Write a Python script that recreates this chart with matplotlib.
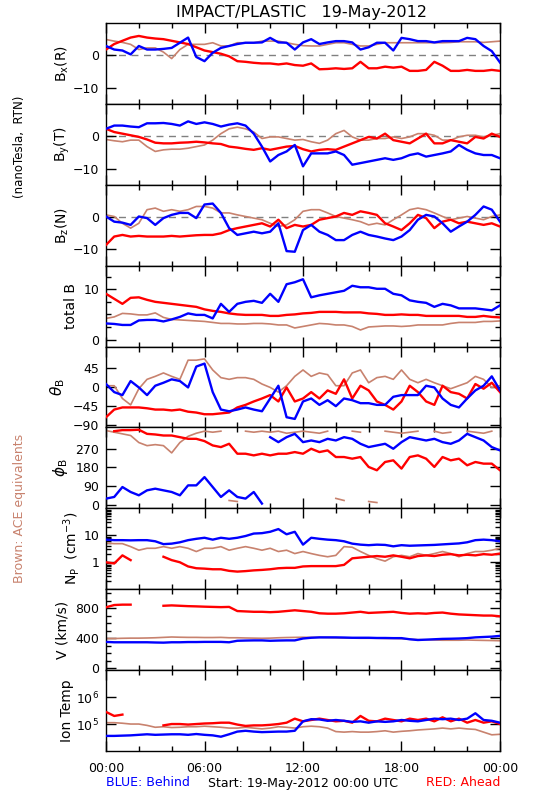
import numpy as np
import matplotlib
matplotlib.use("Agg")
import matplotlib.pyplot as plt
from matplotlib.ticker import MultipleLocator, FixedLocator, NullLocator, LogLocator, NullFormatter, FixedFormatter

# ---------------- data (30-min samples, hours 0..24) ----------------
hours = np.arange(0, 24.01, 0.5)
nan = np.nan

bx_red = [1.8, 3.5, 4.5, 5.5, 6, 5.5, 5.2, 5, 4.5, 4, 3.5, 2.5, 1.5, 1, 0.5, -0.3, -1.8, -2, -2.3, -2.5,
          -2.5, -2.8, -2.5, -3, -3.2, -2.5, -4.3, -4.2, -4, -4.2, -4, -2, -4, -4, -3.5, -3.8, -3.5, -4.8,
          -4.8, -4.5, -2, -3.2, -4.8, -4.8, -4.5, -4.8, -4.8, -4.5, -4.8]
bx_blue = [2.9, 1.8, 1.5, 0.3, 2.9, 1.8, 1.8, 2, 2.3, 3.9, 5.5, -0.5, -1.8, 0.8, 2.3, 2.9, 3.5, 3.9, 3.9, 4,
           5.4, 4, 3.9, 1.8, 4, 5, 3.5, 4, 4.4, 4.4, 4, 1.8, 2.5, 3.9, 3.9, 1.5, 5.4, 5, 4.4, 4.4, 4, 4.4,
           4.4, 4.4, 5.4, 5, 2.9, 1.3, -2.2]
bx_ace = [4.9, 4.4, 4, 3.4, 1.8, 2.3, 2.3, 1, -1, 1.8, 3.4, 3.4, 3.4, 3.9, 2.9, 2.9, 3.9, 3.9, 3.9, 4.4,
          4.4, 4.4, 3.9, 3.4, 3, 2.9, 2.9, 3.4, 3.9, 3.9, 3.4, 2.9, 2.9, 3.4, 3.9, 3.9, 3.9, 3.9, 3.9, 3.9,
          3.9, 3.9, 4, 4.2, 4.2, 4.2, 4, 4.2, 4.4]

by_red = [2.3, 1.3, 0.8, 0.3, -0.2, -1, -2, -2.2, -2.2, -2, -1.9, -1.7, -1.9, -2.2, -2.4, -3.2, -3.5, -3.9,
          -4.2, -3.7, -4.2, -3.7, -3.2, -3, -4, -4.7, -4.2, -4, -4.2, -3.2, -2.2, -1.2, -0.2, -0.7, 0.8,
          -1.2, -1.7, -2.2, -0.7, 0.8, -2.2, -2.2, -1.2, -1.7, -2.2, -0.2, -0.7, 0.8, -0.2]
by_blue = [2.3, 3.3, 3.3, 3, 2.8, 4, 4, 4.1, 3.8, 3.3, 4.6, 3.8, 4.3, 3.8, 3, 3.6, 4, 3.3, 0.8, -3.2, -7.8,
           -5.8, -4.7, -2.7, -9.3, -5.3, -5.3, -5.3, -4.7, -5.8, -8.8, -8.3, -7.8, -7.3, -6.8, -7.3, -6.8,
           -5.8, -5.3, -6.3, -5.8, -5.3, -4.7, -2.7, -4.2, -5.3, -5.8, -5.8, -6.8]
by_ace = [-1, -1.4, -1.7, -1.2, -1.2, -3.2, -4.7, -4.2, -4, -4, -3.7, -3.2, -2.7, -1.2, 0.8, 2.3, 2.8, 2.3,
          1.3, -0.7, -0.2, -0.2, -0.7, -1.2, -1, -1.7, -2.2, -1.2, 0.8, 1.8, -0.2, -1.2, -1.2, -0.7, -0.7,
          -0.2, -0.7, -0.2, 0.8, 0.8, 0.3, -1.2, -1.2, -0.2, 0.3, 0.3, -0.2, 0.3, 0.8]

bz_red = [-8.6, -6, -5.5, -6, -5.8, -6, -6, -6, -5.8, -6, -5.8, -5.6, -5.5, -5.5, -5, -4, -3.4, -2.9, -2.4,
          -1.9, -2.9, -0.8, -3.4, -2.4, -2.9, -2.4, -0.8, -0.3, 0.2, 1.3, 0.7, 1.8, 1.3, 0.7, -1.9, -2.9,
          -4, -1.9, 0.7, -0.3, -3.4, -1.4, -0.8, -1.9, -1.4, -1.9, -2.4, -1.9, -2.9]
bz_blue = [0.2, -1.4, -1.7, -2.4, 0.2, -0.3, -2.4, -0.3, 0.7, 1.3, 1.3, -0.3, 3.9, 4.2, 1.3, -3.4, -5.5, -5,
           -4.5, -5, -4.5, -1.9, -10.5, -10.7, -4, -2.4, -4.5, -5.5, -7.1, -7.1, -5.5, -4.5, -5.5, -6, -6.6,
           -7.1, -6, -4, -0.8, 0.7, 0.2, -1.9, -4.5, -2.9, -1.4, 0.7, 3.3, 2.3, -1.4]
bz_ace = [0.7, 0.2, -1.9, -3.4, -1.9, 2.3, 2.8, 1.8, 2.3, 1.8, 2.3, 3.3, 3.3, 2.8, 1.3, 1.3, 0.7, 0.2, -0.3,
          -0.8, -1.9, -2.9, -2.4, -0.8, 1.8, 2.3, 2.3, 1.3, 0.2, -0.3, -0.8, -1.4, -2.4, -1.9, -2.4, -0.8,
          0.7, 2.3, 2.8, 2.3, 1.3, 0.2, -0.8, -0.3, 0.2, -0.3, -0.8, 0.2, 0.7]

bt_red = [9.1, 8.1, 7.1, 8.3, 8.4, 7.9, 7.5, 7.3, 7.1, 6.9, 6.7, 6.5, 6, 5.7, 5.5, 5.2, 5, 4.9, 4.9, 4.9,
          4.7, 4.7, 4.9, 5, 5.2, 5.3, 5.5, 5.5, 5.5, 5.4, 5.4, 5.4, 5.2, 5.1, 4.9, 4.9, 5, 4.9, 4.9, 4.7,
          4.7, 4.7, 4.7, 4.7, 4.5, 4.5, 4.7, 4.5, 4.4]
bt_blue = [3.2, 3.1, 2.9, 2.9, 3.8, 3.9, 3.9, 3.6, 4, 4.5, 5.2, 4.9, 4.9, 4.2, 7.1, 5.5, 7.1, 7.5, 7.7, 7.3,
           9.1, 7.5, 11, 11.4, 12, 8.4, 8.8, 9.1, 9.4, 9.7, 10.7, 10.4, 10.4, 10.1, 10.1, 9.1, 8.8, 7.8,
           7.5, 7.3, 6.5, 7.1, 6.8, 6.2, 6.2, 6.2, 6, 5.8, 6.8]
bt_ace = [4.2, 4.5, 5.2, 5.1, 4.9, 4.9, 5.3, 4.4, 4, 3.9, 3.8, 3.7, 3.6, 3.4, 3.2, 3.2, 3.1, 3.1, 3.2, 3.2,
          3.1, 2.9, 2.9, 2.3, 2.6, 2.9, 3.2, 3.1, 2.9, 2.9, 2.6, 1.9, 2.5, 2.6, 2.7, 2.7, 2.6, 2.7, 2.9,
          2.9, 2.9, 2.9, 3.2, 3.4, 3.4, 3.4, 3.6, 3.6, 3.7]

theta_red = [-71, -53, -48, -48, -48, -50, -53, -53, -55, -53, -58, -60, -64, -64, -62, -60, -48, -42, -34,
             -27, -19, -34, -1, -34, -27, -12, -27, -8, -16, 18, -27, 3, -8, -34, -42, -53, -34, 3, -12,
             -34, -42, 3, -12, -16, -27, 7, -4, 10, -12]
theta_blue = [7, -12, -19, 14, -1, -19, 3, 10, 18, 14, -1, 48, 55, -12, -53, -57, -53, -48, -53, -57, -27,
              3, -71, -75, -34, -27, -42, -31, -45, -27, -31, -38, -38, -42, -42, -23, -19, -19, -19, 3,
              -1, -27, -42, -48, -27, -8, 3, 25, -8]
theta_ace = [3, 3, -27, -42, -4, 18, 25, 33, 25, 18, 63, 63, 66, 40, 22, 18, 22, 22, 18, 7, -1, -12, 3, 25,
             40, 25, 33, 29, 3, 3, 33, 40, 10, 22, 25, 18, 40, 18, 10, 18, 10, 3, -4, 3, 10, 25, 18, -1, 3]

phi_red = [40, 355, 360, 360, 362, 342, 339, 334, 334, 326, 318, 318, 307, 286, 278, 294, 246, 246, 238,
           246, 238, 246, 246, 254, 246, 270, 254, 262, 230, 230, 222, 230, 182, 166, 206, 214, 174, 230,
           238, 222, 182, 230, 214, 222, 190, 206, 198, 198, 166]
phi_blue = [29, 37, 85, 61, 45, 69, 77, 69, 61, 45, 93, 93, 133, 85, 37, 69, 37, 29, 61, 5, 326, 302, 326,
            342, 302, 310, 302, 318, 310, 326, 318, 294, 278, 286, 294, 270, 302, 326, 318, 310, 318, 302,
            294, 310, 342, 326, 310, 278, 262]
phi_ace = [358, 350, 342, 334, 300, 285, 290, 285, 250, 300, 330, 345, 355, 350, 355, 20, 15, 355, 350,
           355, 350, 355, 345, 350, 355, 350, 345, 355, 30, 20, 355, 350, 15, 10, 355, 350, 345, 350, 355,
           5, 355, 345, 350, 5, 355, 350, 345, 355, 15]

np_red = [1.0, 0.9, 1.8, 1.2, nan, nan, nan, 1.6, 1.2, 1.0, 0.7, 0.6, 0.58, 0.55, 0.55, 0.48, 0.45, 0.47,
          0.5, 0.52, 0.55, 0.6, 0.62, 0.62, 0.7, 0.72, 0.72, 0.72, 0.72, 0.8, 1.4, 1.5, 1.6, 1.7, 1.6, 1.8,
          1.6, 1.4, 1.7, 1.8, 1.7, 1.9, 2.0, 1.8, 1.9, 1.8, 2.0, 1.9, 2.1]
np_blue = [6.9, 6.6, 6.6, 6.5, 6.6, 6.6, 6.0, 4.7, 4.9, 5.5, 6.6, 7.4, 8.1, 6.9, 8.1, 7.4, 8.1, 9.4, 11.6,
           12, 13.5, 17, 10.9, 13.5, 4.5, 8.1, 7.4, 6.9, 6.6, 6.0, 4.9, 4.5, 4.3, 4.5, 4.4, 3.9, 4.3, 4.1,
           4.2, 4.3, 4.4, 4.6, 4.8, 5.0, 5.5, 6.6, 6.9, 6.6, 6.0]
np_ace = [5.2, 4.9, 4.9, 3.8, 2.8, 3.3, 3.3, 3.8, 3.3, 3.8, 3.3, 2.5, 3.3, 3.3, 3.8, 2.8, 3.3, 3.8, 3.3,
          2.8, 3.3, 2.5, 2.8, 2.1, 2.5, 2.1, 1.8, 1.6, 1.8, 3.8, 3.6, 2.5, 1.8, 1.35, 1.1, 1.6, 1.8, 1.6,
          2.1, 1.8, 2.1, 2.5, 2.1, 1.6, 2.1, 2.5, 2.5, 2.8, 3.3]

v_red = [810, 840, 845, 845, nan, nan, nan, 830, 835, 830, 825, 822, 818, 815, 812, 815, 760, 755, 750,
         750, 745, 750, 760, 770, 760, 750, 730, 725, 725, 730, 740, 750, 735, 740, 745, 750, 735, 725,
         730, 725, 735, 740, 725, 715, 710, 705, 700, 700, 690]
v_blue = [350, 345, 345, 345, 345, 345, 342, 340, 345, 345, 348, 348, 350, 350, 350, 345, 365, 368, 370,
          370, 365, 368, 370, 370, 395, 405, 410, 410, 410, 408, 405, 405, 405, 402, 402, 400, 400, 385,
          375, 380, 385, 390, 392, 395, 400, 410, 415, 420, 430]
v_ace = [395, 395, 398, 400, 400, 402, 405, 410, 415, 412, 410, 410, 408, 408, 410, 405, 405, 402, 400,
         398, 400, 405, 408, 410, 412, 410, 410, 408, 405, 402, 400, 398, 398, 398, 395, 395, 392, 385,
         380, 378, 375, 372, 372, 372, 375, 372, 370, 368, 365]

logt_red = [5.45, 5.3, 5.35, nan, nan, nan, nan, 4.95, 5.0, 5.0, 4.98, 5.0, 5.02, 5.03, 5.05, 5.05, 4.98,
            4.93, 4.95, 4.95, 4.97, 5.0, 5.05, 5.2, 5.1, 5.15, 5.2, 5.15, 5.1, 5.12, 5.05, 5.3, 5.12, 5.1,
            5.2, 5.15, 5.1, 5.2, 5.15, 5.2, 5.1, 5.25, 5.1, 5.2, 5.05, 5.15, 5.05, 5.1, 5.0]
logt_blue = [4.56, 4.56, 4.57, 4.58, 4.6, 4.62, 4.6, 4.61, 4.62, 4.62, 4.6, 4.63, 4.6, 4.58, 4.53, 4.62,
             4.72, 4.75, 4.72, 4.7, 4.71, 4.72, 4.72, 4.75, 5.1, 5.18, 5.17, 5.12, 5.15, 5.12, 5.08, 5.1,
             5.05, 5.1, 5.08, 5.1, 5.15, 5.12, 5.1, 5.15, 5.2, 5.18, 5.2, 5.15, 5.2, 5.4, 5.15, 5.12, 5.05]
logt_ace = [5.05, 5.05, 5.03, 5.0, 5.0, 4.95, 4.88, 4.9, 4.87, 4.88, 4.9, 4.9, 4.92, 4.9, 4.88, 4.85, 4.85,
            4.88, 4.85, 4.82, 4.85, 4.9, 4.88, 4.85, 4.9, 4.92, 4.9, 4.85, 4.72, 4.7, 4.72, 4.7, 4.7, 4.72,
            4.75, 4.7, 4.73, 4.75, 4.78, 4.8, 4.82, 4.85, 4.82, 4.85, 4.82, 4.8, 4.7, 4.6, 4.62]

x_tick_labels = ["00:00", "06:00", "12:00", "18:00", "00:00"]
panel_labels = ["B$_\\mathregular{x}$(R)", "B$_\\mathregular{y}$(T)", "B$_\\mathregular{z}$(N)", "total B",
                "$\\theta_\\mathregular{B}$", "$\\phi_\\mathregular{B}$", "N$_\\mathregular{P}$  (cm$^{-3}$)",
                "V (km/s)", "Ion Temp"]

# ---------------- styling ----------------
BLUE = "#0000ff"
RED = "#ff0000"
BROWN = "#c8826e"
FS = 9

plt.rcParams["font.family"] = ["DejaVu Sans"]
fig = plt.figure(figsize=(5.5, 8), dpi=100)
TOP_PX, BOT_PX, LEFT_PX, RIGHT_PX = 23, 751, 106, 500
gs = fig.add_gridspec(9, 1, left=LEFT_PX/550, right=RIGHT_PX/550, top=1-TOP_PX/800, bottom=1-BOT_PX/800,
                      hspace=0)
axes = [fig.add_subplot(gs[i]) for i in range(9)]


def wrap_break(x, y, thr=180):
    x = np.asarray(x, float)
    y = np.asarray(y, float)
    xs, ys = [x[0]], [y[0]]
    for i in range(1, len(x)):
        if abs(y[i] - y[i-1]) > thr:
            xs.append(np.nan)
            ys.append(np.nan)
        xs.append(x[i])
        ys.append(y[i])
    return np.array(xs), np.array(ys)


def draw(ax, ace, red, blue, wrap=False):
    for data, c, w, z in ((ace, BROWN, 1.2, 2), (red, RED, 1.7, 3), (blue, BLUE, 1.7, 4)):
        if wrap:
            xx, yy = wrap_break(hours, data)
        else:
            xx, yy = hours, np.asarray(data, float)
        ax.plot(xx, yy, color=c, lw=w, zorder=z)


series = [
    (bx_ace, bx_red, bx_blue),
    (by_ace, by_red, by_blue),
    (bz_ace, bz_red, bz_blue),
    (bt_ace, bt_red, bt_blue),
    (theta_ace, theta_red, theta_blue),
    (phi_ace, phi_red, phi_blue),
    (np_ace, np_red, np_blue),
    (v_ace, v_red, v_blue),
    ([10**v for v in logt_ace], [10**v for v in logt_red], [10**v for v in logt_blue]),
]

for i, (ax, (a, r, b)) in enumerate(zip(axes, series)):
    draw(ax, a, r, b, wrap=(i == 5))
    ax.set_xlim(0, 24)
    ax.xaxis.set_major_locator(MultipleLocator(6))
    ax.xaxis.set_minor_locator(MultipleLocator(2))
    ax.tick_params(which="both", direction="in", top=True, right=True, labelsize=FS, width=1, pad=5)
    ax.tick_params(which="major", length=7)
    ax.tick_params(which="minor", length=3.5)
    if i < 8:
        ax.tick_params(labelbottom=False)
    for s in ax.spines.values():
        s.set_linewidth(1)

# B components
for ax in axes[:3]:
    ax.set_ylim(-15, 10)
    ax.yaxis.set_major_locator(FixedLocator([-10, 0]))
    ax.yaxis.set_minor_locator(NullLocator())
    ax.axhline(0, color="#808080", lw=1, ls=(0, (5, 4)), zorder=1)

axes[3].set_ylim(-1.4, 14.7)
axes[3].yaxis.set_major_locator(FixedLocator([0, 10]))
axes[3].yaxis.set_minor_locator(MultipleLocator(2.5))

axes[4].set_ylim(-95, 95)
axes[4].yaxis.set_major_locator(FixedLocator([-90, -45, 0, 45]))
axes[4].yaxis.set_minor_locator(NullLocator())

axes[5].set_ylim(-18, 373)
axes[5].yaxis.set_major_locator(FixedLocator([0, 90, 180, 270]))
axes[5].yaxis.set_minor_locator(NullLocator())

axes[6].set_yscale("log")
axes[6].set_ylim(0.1, 100)
axes[6].yaxis.set_major_locator(FixedLocator([1, 10]))
axes[6].yaxis.set_major_formatter(FixedFormatter(["1", "10"]))
axes[6].yaxis.set_minor_locator(LogLocator(base=10, subs=np.arange(2, 10)))
axes[6].yaxis.set_minor_formatter(NullFormatter())

axes[7].set_ylim(-25, 1050)
axes[7].yaxis.set_major_locator(FixedLocator([0, 400, 800]))
axes[7].yaxis.set_minor_locator(MultipleLocator(100))

axes[8].set_yscale("log")
axes[8].set_ylim(1e4, 1e7)
axes[8].yaxis.set_major_locator(FixedLocator([1e5, 1e6]))
axes[8].yaxis.set_major_formatter(FixedFormatter(["10$^5$", "10$^6$"]))
axes[8].yaxis.set_minor_locator(NullLocator())

axes[8].set_xticks([0, 6, 12, 18, 24])
axes[8].set_xticklabels(x_tick_labels, fontsize=FS)
axes[8].tick_params(axis="x", pad=8)

label_x_px = [62, 62, 62, 71, 58, 60, 71, 63, 67]
label_fs = [FS + 1, FS + 1, FS + 1, FS + 1, FS + 2, FS + 2, FS + 1, FS + 1, FS + 1]
panel_h = (BOT_PX - TOP_PX) / 9
for k, (lab, lx, lf) in enumerate(zip(panel_labels, label_x_px, label_fs)):
    cy = TOP_PX + panel_h * (k + 0.5)
    fig.text(lx/550, 1 - cy/800, lab, rotation=90, ha="center", va="center", fontsize=lf)

fig.text(302/550, 1-12/800, "IMPACT/PLASTIC   19-May-2012", ha="center", va="center", fontsize=11.5)
fig.text(20/550, 1-147/800, "(nanoTesla,  RTN)", rotation=90, ha="center", va="center", fontsize=8.5)
fig.text(20/550, 1-508/800, "Brown: ACE equivalents", rotation=90, ha="center", va="center",
         fontsize=9, color=BROWN)
fig.text(106/550, 1-783/800, "BLUE: Behind", ha="left", va="center", fontsize=FS, color=BLUE)
fig.text(303/550, 1-783/800, "Start: 19-May-2012 00:00 UTC", ha="center", va="center", fontsize=FS)
fig.text(500/550, 1-783/800, "RED: Ahead", ha="right", va="center", fontsize=FS, color=RED)

fig.savefig("out.png", dpi=100)
